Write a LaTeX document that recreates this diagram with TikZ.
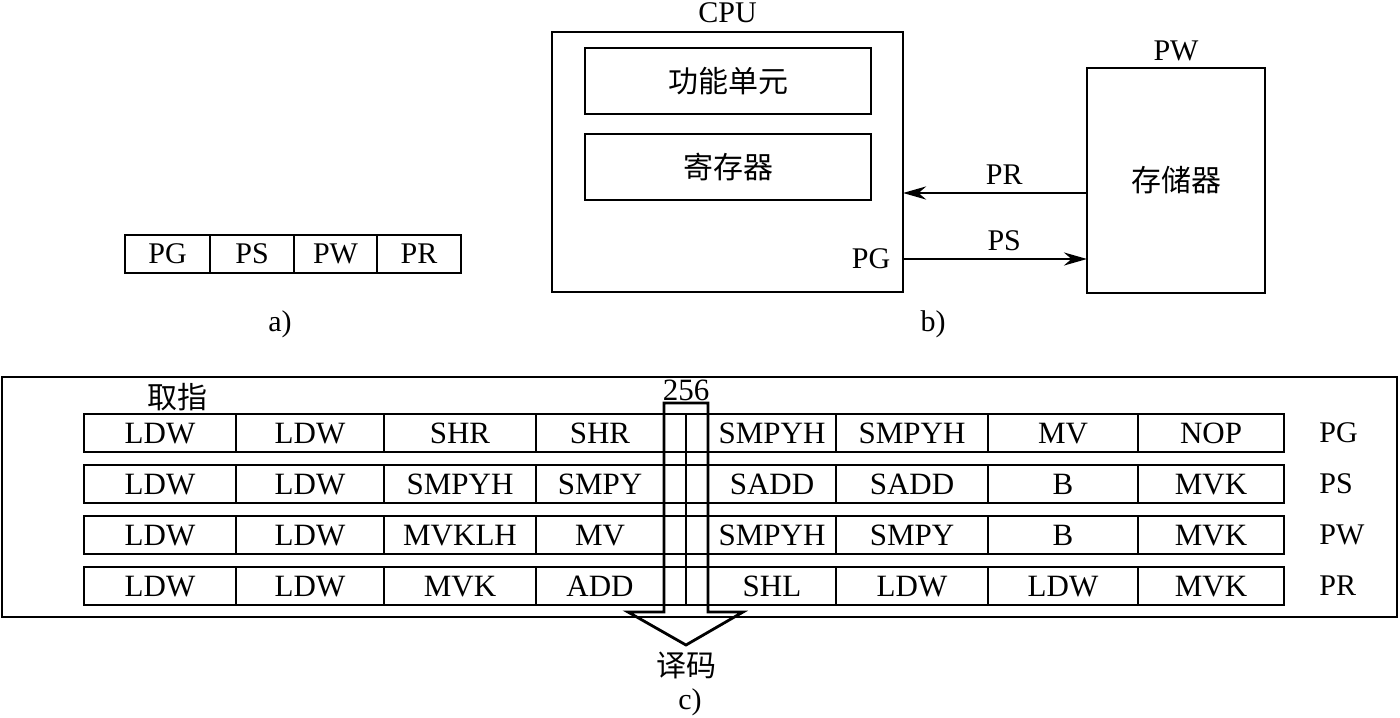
\documentclass[tikz,border=0pt]{standalone}
\usepackage{fontspec}
\setmainfont{Liberation Serif}
\newfontfamily\cjk{Noto Sans CJK SC}
\usetikzlibrary{arrows.meta,positioning}

\begin{document}
\begin{tikzpicture}[x=0.5pt,y=-0.5pt,line width=1.4pt,
                    cell/.style={draw,inner sep=0pt,outer sep=0pt,minimum height=19pt,
                                 text height=10.2pt,text depth=0pt,
                                 font=\fontsize{15.5}{18}\selectfont},
                    stage/.style={draw,inner sep=0pt,outer sep=0pt,minimum height=19pt,
                                  text height=9.9pt,text depth=0pt,
                                  font=\fontsize{15}{18}\selectfont},
                    unit/.style={draw,inner sep=0pt,outer sep=0pt,font=\cjk\fontsize{15}{18}\selectfont},
                    lbl/.style={inner sep=0pt,font=\fontsize{15}{18}\selectfont},
                    zh/.style={inner sep=0pt,font=\cjk\fontsize{15}{18}\selectfont},
                    arr/.style={-{Stealth[length=11.5pt,width=6.5pt]}}]
  \useasboundingbox (0,0) rectangle (1400,717);

  % a) the four fetch phases
  \node[stage,minimum width=42.5pt] (a1) at (167.5,254) {PG};
  \node[stage,minimum width=42pt] (a2) [right=0pt of a1] {PS};
  \node[stage,minimum width=41.5pt] (a3) [right=0pt of a2] {PW};
  \node[stage,minimum width=42pt] (a4) [right=0pt of a3] {PR};
  \node[lbl] (la) at (280,324) {a)};

  % b) CPU and memory
  \node[unit,minimum width=175.5pt,minimum height=130pt] (cpu) at (727.5,162) {};
  \node[lbl] (cpulbl) [above=4pt of cpu] {CPU};
  \node[unit,minimum width=143pt,minimum height=33pt] (fu) at (728,81) {功能单元};
  \node[unit,minimum width=143pt,minimum height=33pt] (reg) at (728,167) {寄存器};
  \node[lbl] (pg) at (871,259) {PG};
  \node[unit,minimum width=89pt,minimum height=112.5pt] (mem) at (1176,180.5) {存储器};
  \node[lbl] (memlbl) [above=3pt of mem] {PW};
  \node[lbl] (lb) at (933,324) {b)};

  \path[every node/.style={lbl}]
    (mem.west |- 0,193) edge[arr] node[pos=0.45,above=3.5pt] {PR} (cpu.east |- 0,193)
    (cpu.east |- pg) edge[arr] node[pos=0.55,above=3.5pt] {PS} (mem.west |- pg);

  % c) fetch packets in the pipeline
  \draw (2,377) rectangle (1397,617);
  \node[zh] (fetch) at (177,397) {取指};

  \node[cell,minimum width=76pt] (g1) at (160,433) {LDW};
  \node[cell,minimum width=74pt] (g2) [right=0pt of g1] {LDW};
  \node[cell,minimum width=76pt] (g3) [right=0pt of g2] {SHR};
  \node[cell,minimum width=64pt] (g4) [right=0pt of g3] {SHR};
  \node[cell,minimum width=11pt] (g5) [right=0pt of g4] {};
  \node[cell,minimum width=11pt] (g6) [right=0pt of g5] {};
  \node[cell,minimum width=64pt] (g7) [right=0pt of g6] {SMPYH};
  \node[cell,minimum width=76pt] (g8) [right=0pt of g7] {SMPYH};
  \node[cell,minimum width=75pt] (g9) [right=0pt of g8] {MV};
  \node[cell,minimum width=73pt] (g10) [right=0pt of g9] {NOP};
  \node[lbl] (lg) [right=17pt of g10] {PG};

  \node[cell,minimum width=76pt] (s1) [below=6.5pt of g1] {LDW};
  \node[cell,minimum width=74pt] (s2) [right=0pt of s1] {LDW};
  \node[cell,minimum width=76pt] (s3) [right=0pt of s2] {SMPYH};
  \node[cell,minimum width=64pt] (s4) [right=0pt of s3] {SMPY};
  \node[cell,minimum width=11pt] (s5) [right=0pt of s4] {};
  \node[cell,minimum width=11pt] (s6) [right=0pt of s5] {};
  \node[cell,minimum width=64pt] (s7) [right=0pt of s6] {SADD};
  \node[cell,minimum width=76pt] (s8) [right=0pt of s7] {SADD};
  \node[cell,minimum width=75pt] (s9) [right=0pt of s8] {B};
  \node[cell,minimum width=73pt] (s10) [right=0pt of s9] {MVK};
  \node[lbl] (ls) [right=17pt of s10] {PS};

  \node[cell,minimum width=76pt] (w1) [below=6.5pt of s1] {LDW};
  \node[cell,minimum width=74pt] (w2) [right=0pt of w1] {LDW};
  \node[cell,minimum width=76pt] (w3) [right=0pt of w2] {MVKLH};
  \node[cell,minimum width=64pt] (w4) [right=0pt of w3] {MV};
  \node[cell,minimum width=11pt] (w5) [right=0pt of w4] {};
  \node[cell,minimum width=11pt] (w6) [right=0pt of w5] {};
  \node[cell,minimum width=64pt] (w7) [right=0pt of w6] {SMPYH};
  \node[cell,minimum width=76pt] (w8) [right=0pt of w7] {SMPY};
  \node[cell,minimum width=75pt] (w9) [right=0pt of w8] {B};
  \node[cell,minimum width=73pt] (w10) [right=0pt of w9] {MVK};
  \node[lbl] (lw) [right=17pt of w10] {PW};

  \node[cell,minimum width=76pt] (r1) [below=6.5pt of w1] {LDW};
  \node[cell,minimum width=74pt] (r2) [right=0pt of r1] {LDW};
  \node[cell,minimum width=76pt] (r3) [right=0pt of r2] {MVK};
  \node[cell,minimum width=64pt] (r4) [right=0pt of r3] {ADD};
  \node[cell,minimum width=11pt] (r5) [right=0pt of r4] {};
  \node[cell,minimum width=11pt] (r6) [right=0pt of r5] {};
  \node[cell,minimum width=64pt] (r7) [right=0pt of r6] {SHL};
  \node[cell,minimum width=76pt] (r8) [right=0pt of r7] {LDW};
  \node[cell,minimum width=75pt] (r9) [right=0pt of r8] {LDW};
  \node[cell,minimum width=73pt] (r10) [right=0pt of r9] {MVK};
  \node[lbl] (lr) [right=17pt of r10] {PR};

  % 256-bit packet going down to decode
  \coordinate (tip) at (686,645);
  \draw (g5.north east) -- (r5.south east);
  \draw (628,612) -- (g4.east |- 0,612) -- (g4.east |- 0,403) -- (g6.east |- 0,403)
        -- (g6.east |- 0,612) -- (743,612) -- (tip) -- cycle;
  \node[lbl,font=\fontsize{15.5}{18}\selectfont] (bits) at (686,390) {256};
  \node[zh] (dec) at (686,665) {译码};
  \node[lbl] (lc) at (690,702) {c)};
\end{tikzpicture}
\end{document}
